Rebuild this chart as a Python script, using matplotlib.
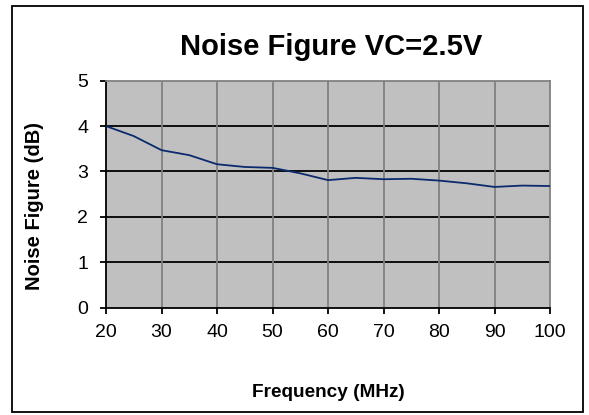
import matplotlib
matplotlib.use("Agg")
import matplotlib.pyplot as plt
from matplotlib.patches import Rectangle

# Noise figure vs frequency
freq_mhz = [20, 25, 30, 35, 40, 45, 50, 55, 60, 65, 70, 75, 80, 85, 90, 95, 100]
noise_db = [4.00, 3.78, 3.47, 3.36, 3.16, 3.10, 3.08, 2.96, 2.81, 2.86, 2.83, 2.84,
            2.80, 2.74, 2.66, 2.69, 2.68]

x_ticks = [20, 30, 40, 50, 60, 70, 80, 90, 100]
y_ticks = [0, 1, 2, 3, 4, 5]

plt.rcParams["font.family"] = ["Liberation Sans", "DejaVu Sans"]

W, H = 589, 415
fig = plt.figure(figsize=(W / 100, H / 100), dpi=100)
ax = fig.add_axes([106 / W, 1 - 307.7 / H, 444 / W, 227 / H])

ax.set_facecolor("#c0c0c0")
ax.plot(freq_mhz, noise_db, color="#0b2a6e", linewidth=1.3, zorder=3)

ax.set_xlim(20, 100)
ax.set_ylim(0, 5)
ax.set_xticks(x_ticks)
ax.set_yticks(y_ticks)

# Excel-style grid: black horizontal, grey vertical
for y in y_ticks[1:-1]:
    ax.axhline(y, color="black", linewidth=1.3, zorder=1)
for x in x_ticks[1:-1]:
    ax.axvline(x, color="#808080", linewidth=1.3, zorder=1)

for side in ("top", "right"):
    ax.spines[side].set_color("#808080")
    ax.spines[side].set_linewidth(1.3)
for side in ("left", "bottom"):
    ax.spines[side].set_color("black")
    ax.spines[side].set_linewidth(1.3)

ax.tick_params(direction="out", length=4.3, width=1.3, labelsize=14)
ax.tick_params(axis="x", pad=7.5)
ax.tick_params(axis="y", pad=8.5)

fig.text(331 / W, 1 - 55 / H, "Noise Figure VC=2.5V", fontsize=21,
         fontweight="bold", ha="center", va="baseline")
fig.text(328 / W, 1 - 397 / H, "Frequency (MHz)", fontsize=13.7,
         fontweight="bold", ha="center", va="baseline")
fig.text(35 / W, 1 - 206.5 / H, "Noise Figure (dB)", fontsize=14.5,
         fontweight="bold", ha="center", va="center", rotation=90)

# outer chart frame
fig.patches.append(Rectangle((12 / W, 3 / H), 571 / W, 406 / H,
                             transform=fig.transFigure, fill=False,
                             edgecolor="black", linewidth=1.3))

fig.savefig("out.png", dpi=100)
